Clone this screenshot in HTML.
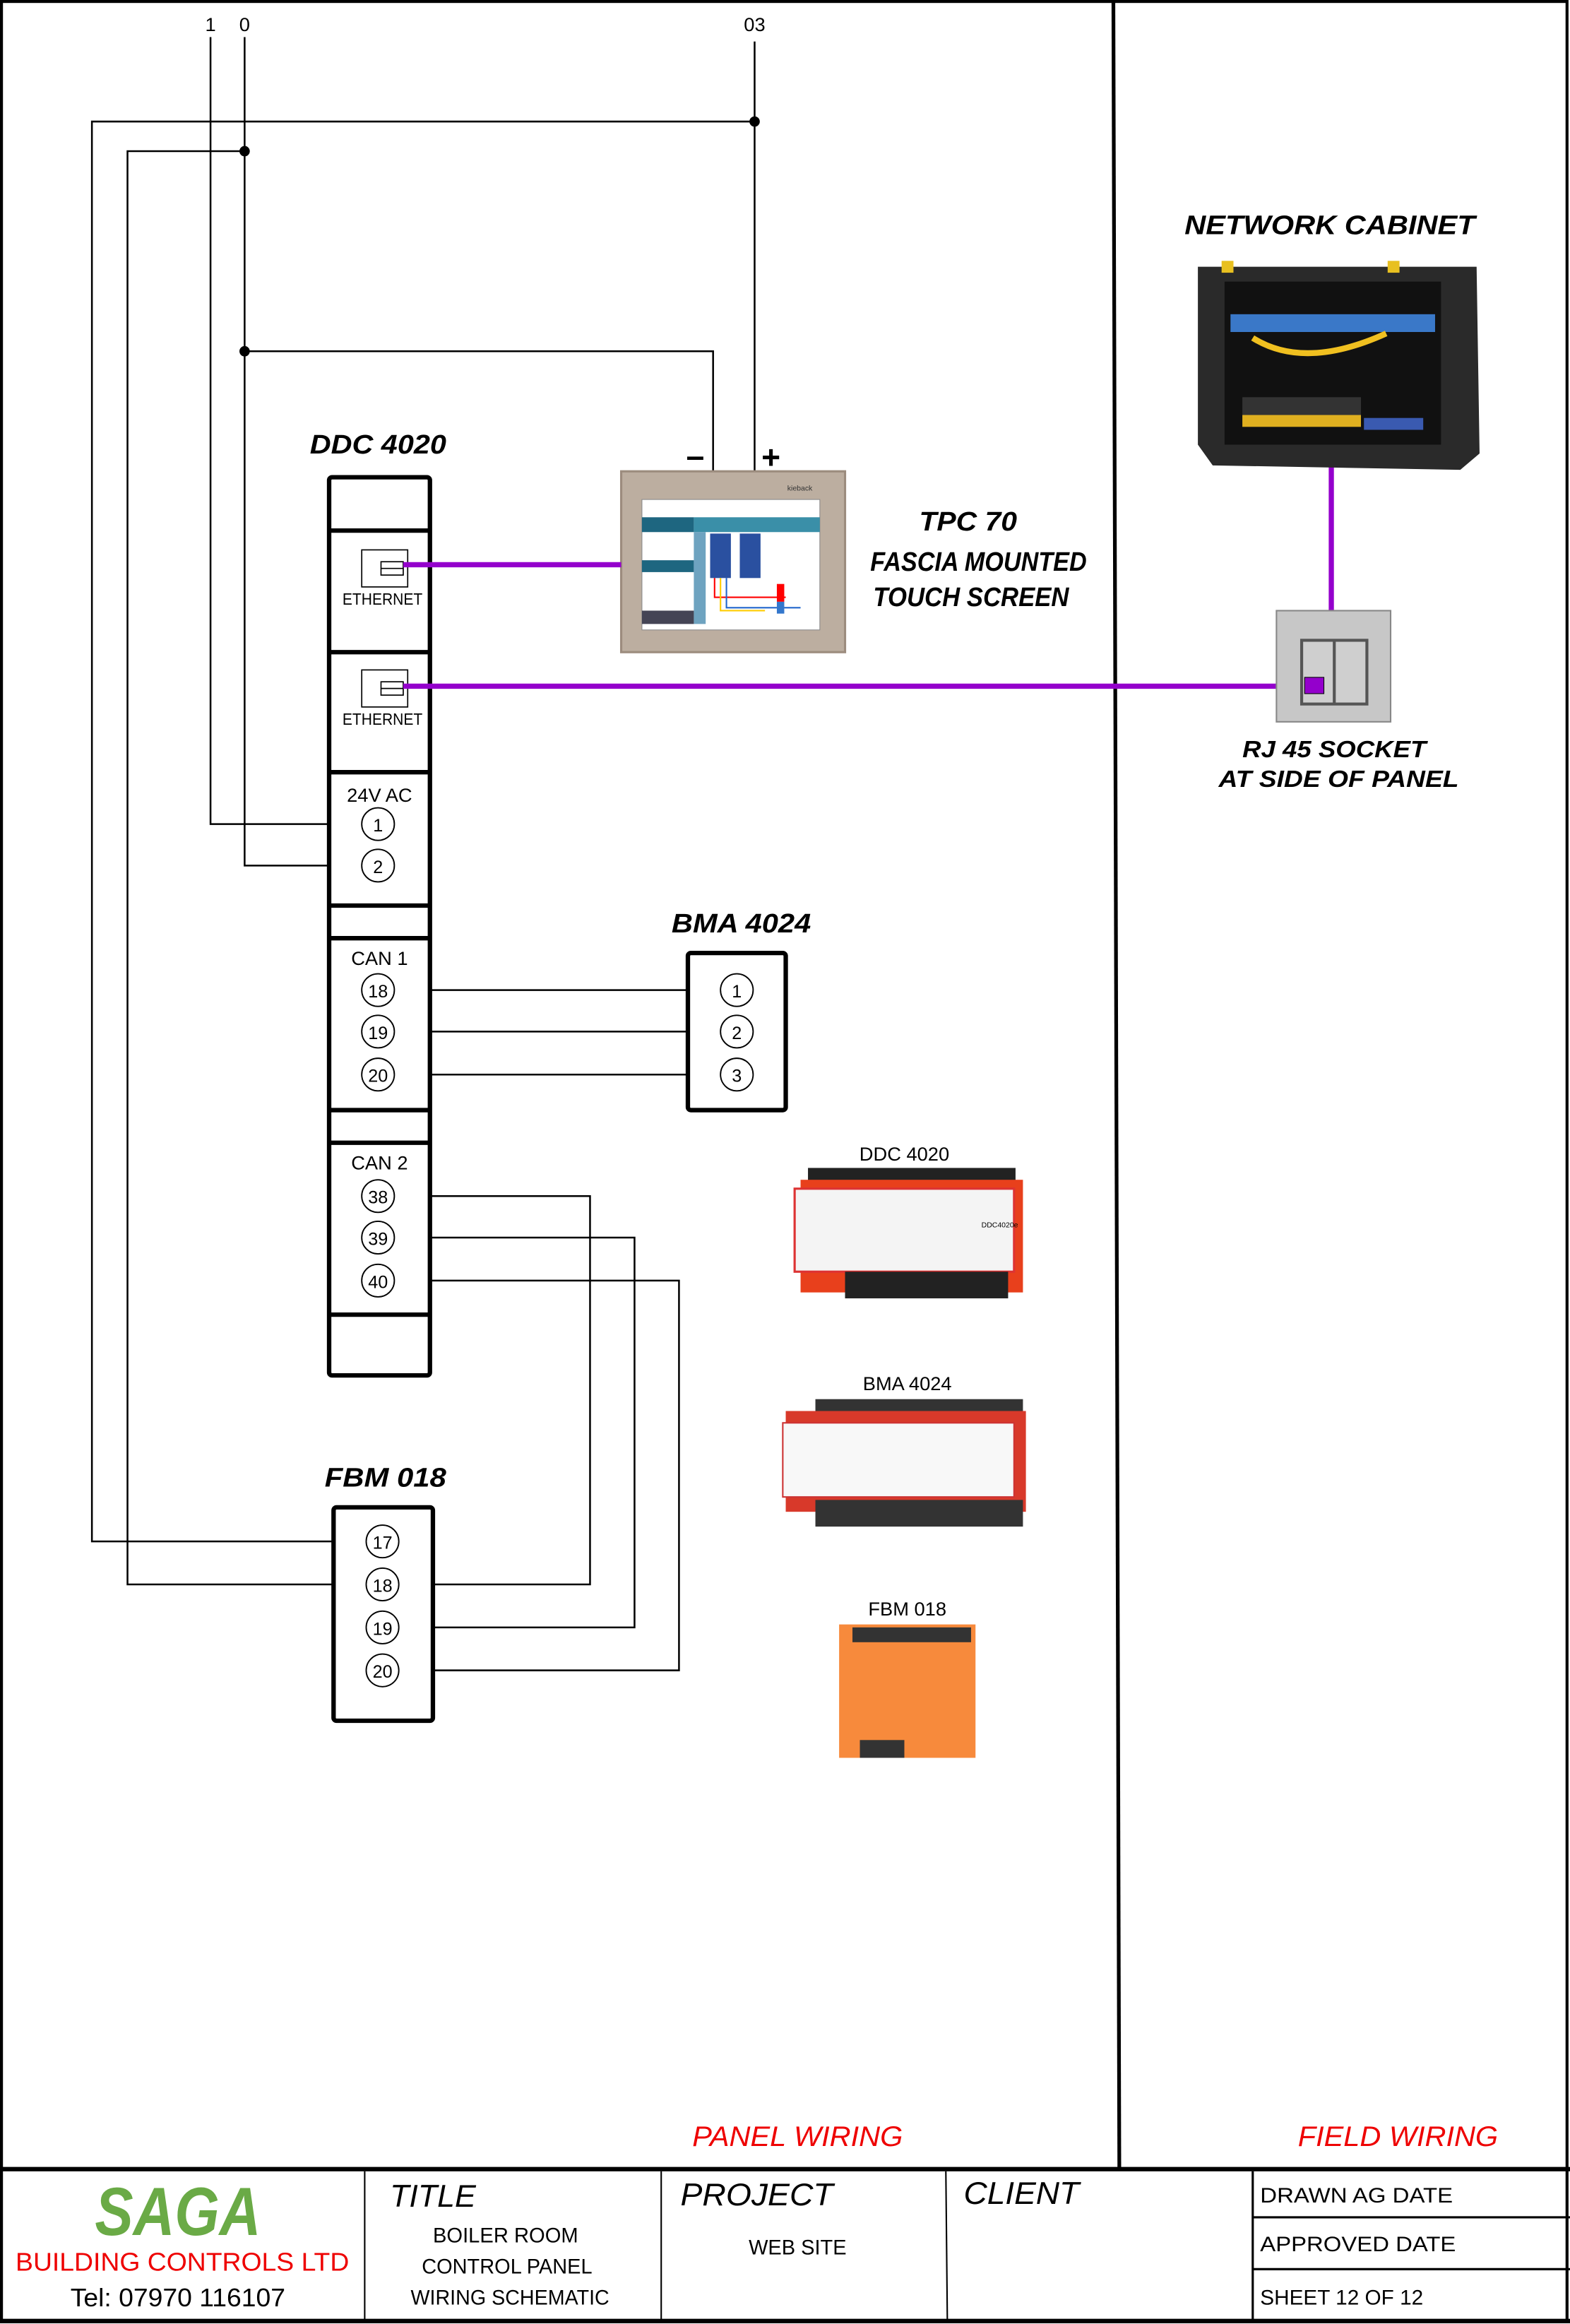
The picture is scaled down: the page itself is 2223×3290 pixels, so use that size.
<!DOCTYPE html>
<html><head><meta charset="utf-8"><style>
html,body{margin:0;padding:0;background:#fff}
svg{display:block}
text{font-family:"Liberation Sans",Arial,sans-serif}
.b{font-weight:bold;font-style:italic}
</style></head><body>
<svg width="2223" height="3290" viewBox="0 0 1059 1568" preserveAspectRatio="none" xmlns="http://www.w3.org/2000/svg">
<rect x="0" y="0" width="1059" height="1568" fill="#fff"/>
<rect x="1" y="1" width="1056" height="1565" fill="none" stroke="#000" stroke-width="2"/>
<line x1="751" y1="0" x2="755" y2="1463" stroke="#000" stroke-width="2.5"/>
<line x1="0" y1="1463.5" x2="1059" y2="1463.5" stroke="#000" stroke-width="3"/>
<line x1="0" y1="1566" x2="1059" y2="1566" stroke="#000" stroke-width="3"/>
<g stroke="#000" stroke-width="1">
<line x1="246" y1="1465" x2="246" y2="1566"/>
<line x1="446" y1="1465" x2="446" y2="1566"/>
<line x1="638" y1="1465" x2="639" y2="1566"/>
</g>
<line x1="845" y1="1465" x2="845" y2="1566" stroke="#000" stroke-width="1.5"/>
<line x1="845" y1="1496" x2="1059" y2="1496" stroke="#000" stroke-width="1.5"/>
<line x1="845" y1="1531" x2="1059" y2="1531" stroke="#000" stroke-width="1.5"/>
<text x="120" y="1508" font-size="46" class="b" fill="#6aaa46" text-anchor="middle" textLength="112" lengthAdjust="spacingAndGlyphs">SAGA</text>
<text x="123" y="1532" font-size="17" fill="#e00" text-anchor="middle" textLength="225" lengthAdjust="spacingAndGlyphs">BUILDING CONTROLS LTD</text>
<text x="120" y="1556" font-size="17" fill="#000" text-anchor="middle" textLength="145" lengthAdjust="spacingAndGlyphs">Tel: 07970 116107</text>
<text x="263" y="1489" font-size="21" font-style="italic" fill="#000" textLength="58" lengthAdjust="spacingAndGlyphs">TITLE</text>
<text x="341" y="1513" font-size="14" text-anchor="middle" textLength="98" lengthAdjust="spacingAndGlyphs">BOILER ROOM</text>
<text x="342" y="1534" font-size="14" text-anchor="middle" textLength="115" lengthAdjust="spacingAndGlyphs">CONTROL PANEL</text>
<text x="344" y="1555" font-size="14" text-anchor="middle" textLength="134" lengthAdjust="spacingAndGlyphs">WIRING SCHEMATIC</text>
<text x="459" y="1488" font-size="21" font-style="italic" textLength="103" lengthAdjust="spacingAndGlyphs">PROJECT</text>
<text x="538" y="1521" font-size="14" text-anchor="middle" textLength="66" lengthAdjust="spacingAndGlyphs">WEB SITE</text>
<text x="650" y="1487" font-size="21" font-style="italic" textLength="78" lengthAdjust="spacingAndGlyphs">CLIENT</text>
<text x="850" y="1486" font-size="14" textLength="130" lengthAdjust="spacingAndGlyphs">DRAWN  AG    DATE</text>
<text x="850" y="1519" font-size="14" textLength="132" lengthAdjust="spacingAndGlyphs">APPROVED     DATE</text>
<text x="850" y="1555" font-size="14" textLength="110" lengthAdjust="spacingAndGlyphs">SHEET 12 OF 12</text>
<text x="538" y="1448" font-size="19" font-style="italic" fill="#e00" text-anchor="middle" textLength="142" lengthAdjust="spacingAndGlyphs">PANEL WIRING</text>
<text x="943" y="1448" font-size="19" font-style="italic" fill="#e00" text-anchor="middle" textLength="135" lengthAdjust="spacingAndGlyphs">FIELD WIRING</text>

<g stroke="#000" stroke-width="1.2" fill="none">
<polyline points="142,25 142,556 244,556"/>
<polyline points="165,25 165,584 244,584"/>
<polyline points="509,28 509,318"/>
<polyline points="509,82 62,82 62,1040 247,1040"/>
<polyline points="165,102 86,102 86,1069 247,1069"/>
<polyline points="165,237 481,237 481,318"/>
<line x1="266" y1="668" x2="486" y2="668"/>
<line x1="266" y1="696" x2="486" y2="696"/>
<line x1="266" y1="725" x2="486" y2="725"/>
<polyline points="266,807 398,807 398,1069 269,1069"/>
<polyline points="266,835 428,835 428,1098 269,1098"/>
<polyline points="266,864 458,864 458,1127 269,1127"/>
</g>
<g fill="#000"><circle cx="509" cy="82" r="3.5"/><circle cx="165" cy="102" r="3.5"/><circle cx="165" cy="237" r="3.5"/></g>
<text x="142" y="21" font-size="13" text-anchor="middle">1</text>
<text x="165" y="21" font-size="13" text-anchor="middle">0</text>
<text x="509" y="21" font-size="13" text-anchor="middle">03</text>
<text x="469" y="315" font-size="22" font-weight="bold" text-anchor="middle">–</text>
<text x="520" y="316" font-size="22" font-weight="bold" text-anchor="middle">+</text>

<text x="255" y="306" font-size="18" class="b" text-anchor="middle" textLength="92" lengthAdjust="spacingAndGlyphs">DDC 4020</text>
<rect x="222" y="322" width="68" height="606" rx="2" fill="#fff" stroke="#000" stroke-width="3"/>
<g stroke="#000" stroke-width="3">
<line x1="222" y1="358" x2="290" y2="358"/><line x1="222" y1="440" x2="290" y2="440"/>
<line x1="222" y1="521" x2="290" y2="521"/><line x1="222" y1="611" x2="290" y2="611"/>
<line x1="222" y1="633" x2="290" y2="633"/><line x1="222" y1="749" x2="290" y2="749"/>
<line x1="222" y1="771" x2="290" y2="771"/><line x1="222" y1="887" x2="290" y2="887"/>
</g>
<g fill="#fff" stroke="#000" stroke-width="0.8">
<rect x="244" y="371" width="31" height="25"/><rect x="257" y="379" width="15" height="9"/><line x1="257" y1="383.5" x2="272" y2="383.5"/>
<rect x="244" y="452" width="31" height="25"/><rect x="257" y="460" width="15" height="9"/><line x1="257" y1="464.5" x2="272" y2="464.5"/>
</g>
<text x="258" y="408" font-size="11" text-anchor="middle" textLength="54" lengthAdjust="spacingAndGlyphs">ETHERNET</text>
<text x="258" y="489" font-size="11" text-anchor="middle" textLength="54" lengthAdjust="spacingAndGlyphs">ETHERNET</text>
<text x="256" y="541" font-size="13" text-anchor="middle">24V AC</text>
<text x="256" y="651" font-size="13" text-anchor="middle">CAN 1</text>
<text x="256" y="789" font-size="13" text-anchor="middle">CAN 2</text>
<g fill="#fff" stroke="#000" stroke-width="0.9">
<circle cx="255" cy="556" r="11"/><circle cx="255" cy="584" r="11"/>
<circle cx="255" cy="668" r="11"/><circle cx="255" cy="696" r="11"/><circle cx="255" cy="725" r="11"/>
<circle cx="255" cy="807" r="11"/><circle cx="255" cy="835" r="11"/><circle cx="255" cy="864" r="11"/>
</g>
<g font-size="12" text-anchor="middle">
<text x="255" y="561">1</text><text x="255" y="589">2</text>
<text x="255" y="673">18</text><text x="255" y="701">19</text><text x="255" y="730">20</text>
<text x="255" y="812">38</text><text x="255" y="840">39</text><text x="255" y="869">40</text>
</g>

<text x="500" y="629" font-size="18" class="b" text-anchor="middle" textLength="94" lengthAdjust="spacingAndGlyphs">BMA 4024</text>
<rect x="464" y="643" width="66" height="106" rx="2" fill="#fff" stroke="#000" stroke-width="3"/>
<g fill="#fff" stroke="#000" stroke-width="0.9"><circle cx="497" cy="668" r="11"/><circle cx="497" cy="696" r="11"/><circle cx="497" cy="725" r="11"/></g>
<g font-size="12" text-anchor="middle"><text x="497" y="673">1</text><text x="497" y="701">2</text><text x="497" y="730">3</text></g>

<text x="260" y="1003" font-size="18" class="b" text-anchor="middle" textLength="82" lengthAdjust="spacingAndGlyphs">FBM 018</text>
<rect x="225" y="1017" width="67" height="144" rx="2" fill="#fff" stroke="#000" stroke-width="3"/>
<g fill="#fff" stroke="#000" stroke-width="0.9"><circle cx="258" cy="1040" r="11"/><circle cx="258" cy="1069" r="11"/><circle cx="258" cy="1098" r="11"/><circle cx="258" cy="1127" r="11"/></g>
<g font-size="12" text-anchor="middle"><text x="258" y="1045">17</text><text x="258" y="1074">18</text><text x="258" y="1103">19</text><text x="258" y="1132">20</text></g>

<rect x="419" y="318" width="151" height="122" fill="#bcaea0" stroke="#9c8c7e" stroke-width="1.5"/>
<rect x="433" y="337" width="120" height="88" fill="#fff" stroke="#888" stroke-width="0.5"/>
<rect x="433" y="349" width="35" height="10" fill="#1e6680"/>
<rect x="468" y="349" width="85" height="10" fill="#3a8fa8"/>
<rect x="433" y="378" width="35" height="8" fill="#1e6680"/>
<rect x="468" y="359" width="8" height="62" fill="#6ea3c0"/>
<rect x="433" y="412" width="35" height="9" fill="#445"/>
<rect x="479" y="360" width="14" height="30" fill="#2a50a0"/>
<rect x="499" y="360" width="14" height="30" fill="#2a50a0"/>
<polyline points="482,390 482,403 530,403" stroke="#f00" fill="none" stroke-width="1"/>
<polyline points="486,390 486,412 516,412" stroke="#fc0" fill="none" stroke-width="1"/>
<polyline points="490,390 490,410 540,410" stroke="#26c" fill="none" stroke-width="1"/>
<rect x="524" y="394" width="5" height="12" fill="#f00"/><rect x="524" y="406" width="5" height="8" fill="#37c"/>
<text x="548" y="331" font-size="5" fill="#333" text-anchor="end">kieback</text>
<text x="653" y="358" font-size="18" class="b" text-anchor="middle" textLength="66" lengthAdjust="spacingAndGlyphs">TPC 70</text>
<text x="660" y="385" font-size="18" class="b" text-anchor="middle" textLength="146" lengthAdjust="spacingAndGlyphs">FASCIA MOUNTED</text>
<text x="655" y="409" font-size="18" class="b" text-anchor="middle" textLength="132" lengthAdjust="spacingAndGlyphs">TOUCH SCREEN</text>

<g stroke="#9400cc" stroke-width="3.5">
<line x1="272" y1="381" x2="419" y2="381"/>
<line x1="272" y1="463" x2="886" y2="463"/>
<line x1="898" y1="313" x2="898" y2="413"/>
</g>

<rect x="861" y="412" width="77" height="75" fill="#c7c7c7" stroke="#888"/>
<rect x="877" y="431" width="46" height="45" fill="#555"/>
<rect x="879" y="433" width="20" height="41" fill="#cfcfcf"/><rect x="901" y="433" width="20" height="41" fill="#cfcfcf"/>
<rect x="880" y="457" width="13" height="11" fill="#9400cc" stroke="#000" stroke-width="0.5"/>
<text x="900" y="511" font-size="16" class="b" text-anchor="middle" textLength="124" lengthAdjust="spacingAndGlyphs">RJ 45 SOCKET</text>
<text x="903" y="531" font-size="16" class="b" text-anchor="middle" textLength="162" lengthAdjust="spacingAndGlyphs">AT SIDE OF PANEL</text>

<text x="897" y="158" font-size="18" class="b" text-anchor="middle" textLength="196" lengthAdjust="spacingAndGlyphs">NETWORK CABINET</text>
<polygon points="808,180 996,180 998,306 985,317 818,314 808,300" fill="#2a2a2a"/>
<rect x="826" y="190" width="146" height="110" fill="#111"/>
<rect x="830" y="212" width="138" height="12" fill="#3a78c8"/>
<path d="M845,228 Q880,250 935,225" stroke="#f0c020" stroke-width="4" fill="none"/>
<rect x="838" y="268" width="80" height="12" fill="#333"/><rect x="838" y="280" width="80" height="8" fill="#e0b020"/>
<rect x="920" y="282" width="40" height="8" fill="#3a5ab0"/>
<rect x="824" y="176" width="8" height="8" fill="#e8c020"/><rect x="936" y="176" width="8" height="8" fill="#e8c020"/>

<text x="610" y="783" font-size="13" text-anchor="middle">DDC 4020</text>
<rect x="545" y="788" width="140" height="20" fill="#222"/>
<rect x="540" y="796" width="150" height="76" fill="#e8401c"/>
<rect x="536" y="802" width="148" height="56" fill="#f4f4f4" stroke="#d33" stroke-width="1.5"/>
<rect x="570" y="858" width="110" height="18" fill="#222"/>
<text x="662" y="828" font-size="5">DDC4020e</text>

<text x="612" y="938" font-size="13" text-anchor="middle">BMA 4024</text>
<rect x="550" y="944" width="140" height="10" fill="#333"/>
<rect x="530" y="952" width="162" height="68" fill="#d8392a"/>
<rect x="528" y="960" width="156" height="50" fill="#f8f8f8" stroke="#c33"/>
<rect x="550" y="1012" width="140" height="18" fill="#333"/>

<text x="612" y="1090" font-size="13" text-anchor="middle">FBM 018</text>
<rect x="566" y="1096" width="92" height="90" fill="#f78a3c"/>
<rect x="575" y="1098" width="80" height="10" fill="#333"/>
<rect x="580" y="1174" width="30" height="12" fill="#333"/>
</svg>
</body></html>
